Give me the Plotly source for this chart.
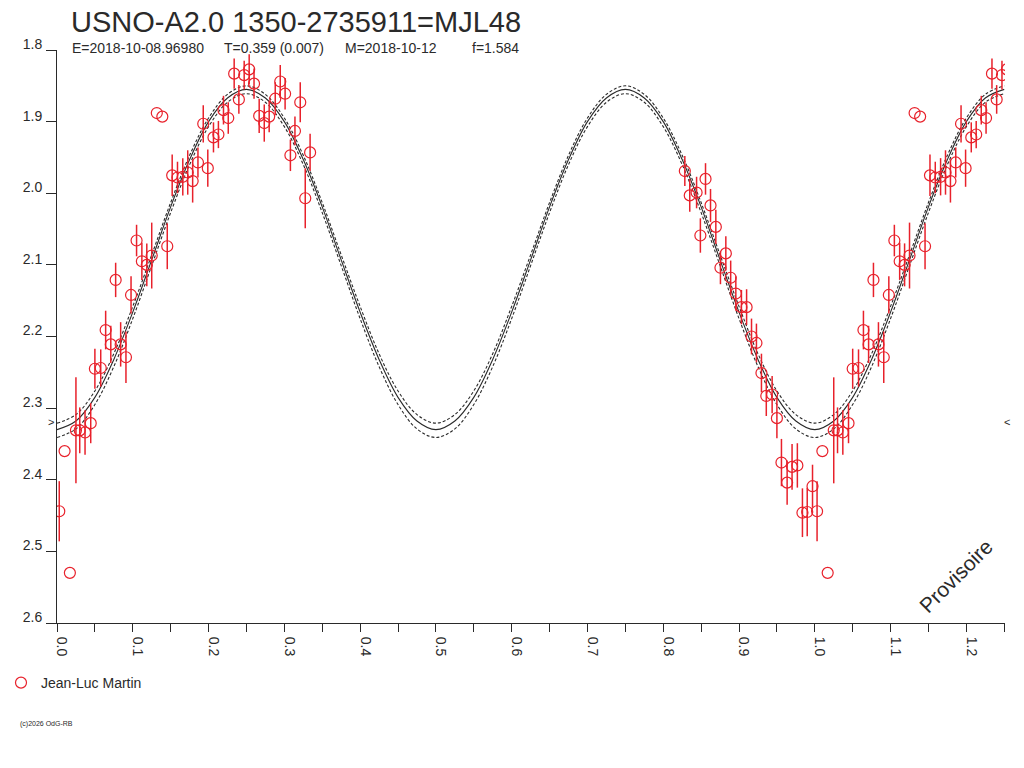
import plotly.graph_objects as go

OUTPUT_HTML = "out.html"

# photometry folded on phase (Jean-Luc Martin)
phase = [0.003, 0.010, 0.017, 0.025, 0.030, 0.037, 0.0445, 0.050, 0.0577, 0.0642,
         0.071, 0.0774, 0.084, 0.091, 0.0977, 0.105, 0.112, 0.1185, 0.125, 0.1317,
         0.139, 0.1455, 0.152, 0.159, 0.166, 0.1725, 0.179, 0.186, 0.193, 0.199,
         0.2065, 0.213, 0.2197, 0.226, 0.2338, 0.240, 0.247, 0.2536, 0.260, 0.2668,
         0.2735, 0.280, 0.288, 0.2946, 0.301, 0.308, 0.314, 0.321, 0.3276, 0.334,
         0.8285, 0.835, 0.844, 0.849, 0.8558, 0.8624, 0.8694, 0.8755, 0.8826, 0.889,
         0.8958, 0.9032, 0.910, 0.9165, 0.923, 0.9296, 0.936, 0.9437, 0.950, 0.956,
         0.9635, 0.970, 0.977, 0.9837, 0.990, 0.997]
mag = [2.444, 2.360, 2.530, 2.331, 2.331, 2.334, 2.321, 2.245, 2.244, 2.191,
       2.211, 2.121, 2.211, 2.229, 2.142, 2.066, 2.095, 2.100, 2.087, 1.888,
       1.893, 2.074, 1.975, 1.978, 1.977, 1.971, 1.983, 1.957, 1.903, 1.965,
       1.922, 1.918, 1.884, 1.895, 1.833, 1.869, 1.835, 1.827, 1.847, 1.892,
       1.902, 1.893, 1.868, 1.844, 1.861, 1.947, 1.913, 1.873, 2.007, 1.943,
       1.969, 2.003, 1.999, 2.059, 1.980, 2.017, 2.047, 2.104, 2.084, 2.118,
       2.140, 2.159, 2.159, 2.200, 2.209, 2.251, 2.283, 2.281, 2.314, 2.376,
       2.404, 2.382, 2.380, 2.446, 2.445, 2.409]
mag_err = [0.042, 0.0, 0.0, 0.074, 0.032, 0.031, 0.028, 0.028, 0.026, 0.027,
           0.026, 0.024, 0.031, 0.036, 0.026, 0.022, 0.026, 0.030, 0.046, 0.0,
           0.0, 0.032, 0.029, 0.022, 0.026, 0.031, 0.030, 0.021, 0.026, 0.026,
           0.021, 0.019, 0.020, 0.022, 0.021, 0.020, 0.020, 0.021, 0.021, 0.024,
           0.026, 0.022, 0.023, 0.023, 0.022, 0.022, 0.020, 0.028, 0.042, 0.026,
           0.021, 0.023, 0.022, 0.024, 0.022, 0.023, 0.024, 0.023, 0.024, 0.024,
           0.024, 0.024, 0.025, 0.025, 0.027, 0.027, 0.028, 0.026, 0.028, 0.033,
           0.031, 0.032, 0.031, 0.034, 0.034, 0.030]

# fitted curve over half a period (double wave), read every 0.025 in phase
curve_phase = [0.0, 0.025, 0.05, 0.075, 0.1, 0.125, 0.15, 0.175, 0.2, 0.225, 0.25,
               0.275, 0.3, 0.325, 0.35, 0.375, 0.4, 0.425, 0.45, 0.475, 0.5]
curve_mid = [2.330, 2.318, 2.285, 2.232, 2.166, 2.093, 2.019, 1.953, 1.900, 1.867, 1.855,
             1.867, 1.900, 1.953, 2.019, 2.093, 2.166, 2.232, 2.285, 2.318, 2.330]
curve_hi = [2.321, 2.309, 2.276, 2.224, 2.158, 2.086, 2.013, 1.947, 1.895, 1.862, 1.850,
            1.862, 1.895, 1.947, 2.013, 2.086, 2.158, 2.224, 2.276, 2.309, 2.321]
curve_lo = [2.341, 2.329, 2.295, 2.242, 2.175, 2.101, 2.027, 1.960, 1.907, 1.873, 1.861,
            1.873, 1.907, 1.960, 2.027, 2.101, 2.175, 2.242, 2.295, 2.329, 2.341]

mean_mag = 2.319
title = "USNO-A2.0 1350-2735911=MJL48"
info = [("E=2018-10-08.96980", 70), ("T=0.359 (0.007)", 222),
        ("M=2018-10-12", 343), ("f=1.584", 470)]

FONT = "Liberation Sans, Arial, sans-serif"
RED = "#e8212b"
INK = "#2a2a2a"

# the page body adds an 8px margin, so screen pixels are shifted by OFF
OFF = 8
W, H = 1024, 768
L, T = 57 - OFF, 50 - OFF
R, B = W - (1005 - OFF), H - (623 - OFF)
pw, ph = W - L - R, H - T - B


def to_paper(xpx, ypx):
    return (xpx - OFF - L) / pw, 1 - (ypx - OFF - T) / ph


def tile(values):
    # repeat the half period up to phase 1.25
    xs, ys = [], []
    for k in range(3):
        for p, v in zip(curve_phase, values):
            x = p + 0.5 * k
            if x > 1.25 or (k > 0 and p == 0.0):
                continue
            xs.append(x)
            ys.append(v)
    return xs, ys


fig = go.Figure()

for vals, dash in [(curve_hi, "3px,2px"), (curve_lo, "3px,2px"), (curve_mid, "solid")]:
    cx, cy = tile(vals)
    fig.add_trace(go.Scatter(x=cx, y=cy, mode="lines", showlegend=False, hoverinfo="skip",
                             line=dict(color=INK, width=1.1, dash=dash, shape="spline")))

# points before phase 0.26 are shown again one cycle later
px_ = phase + [p + 1 for p in phase if p < 0.26]
py_ = mag + [m for p, m in zip(phase, mag) if p < 0.26]
pe_ = mag_err + [e for p, e in zip(phase, mag_err) if p < 0.26]

fig.add_trace(go.Scatter(
    x=px_, y=py_, mode="markers", name="Jean-Luc Martin",
    marker=dict(symbol="circle-open", size=11, color=RED, line=dict(width=1.2, color=RED)),
    error_y=dict(type="data", array=pe_, visible=True, color=RED, thickness=1.5, width=0),
))

annotations = []
tx, ty = to_paper(70, 22)
annotations.append(dict(text=title, x=tx, y=ty, xref="paper", yref="paper", showarrow=False,
                        xanchor="left", yanchor="middle", borderpad=0,
                        font=dict(size=29, color=INK, family=FONT)))
for txt, xp in info:
    ax, ay = to_paper(xp, 48)
    annotations.append(dict(text=txt, x=ax, y=ay, xref="paper", yref="paper", showarrow=False,
                            xanchor="left", yanchor="middle", font=dict(size=14, color=INK, family=FONT)))
annotations.append(dict(text=">", x=0, y=mean_mag, xref="paper", yref="y", showarrow=False,
                        xanchor="right", yanchor="middle", xshift=-1,
                        font=dict(size=11, color=INK, family=FONT)))
annotations.append(dict(text="<", x=1, y=mean_mag, xref="paper", yref="y", showarrow=False,
                        xanchor="left", yanchor="middle", xshift=-3,
                        font=dict(size=11, color=INK, family=FONT)))
px1, py1 = to_paper(955, 576)
annotations.append(dict(text="Provisoire", x=px1, y=py1, xref="paper", yref="paper", showarrow=False,
                        xanchor="center", yanchor="middle", textangle=-45,
                        font=dict(size=21, color=INK, family=FONT)))
cx1, cy1 = to_paper(18, 724)
annotations.append(dict(text="(c)2026 OdG-RB", x=cx1, y=cy1, xref="paper", yref="paper",
                        showarrow=False, xanchor="left", yanchor="middle",
                        font=dict(size=7, color=INK, family=FONT)))

lx, ly = to_paper(1, 683)

fig.update_layout(
    width=W, height=H,
    margin=dict(l=L, r=R, t=T, b=B, autoexpand=False),
    paper_bgcolor="white", plot_bgcolor="white",
    font=dict(family=FONT, color=INK, size=14),
    annotations=annotations,
    showlegend=True,
    legend=dict(x=lx, y=ly, xanchor="left", yanchor="middle", bgcolor="rgba(0,0,0,0)",
                font=dict(size=14, color=INK, family=FONT), itemwidth=30),
    xaxis=dict(range=[0, 1.251], showgrid=False, zeroline=False, showline=True,
               linecolor=INK, linewidth=1, ticks="outside", ticklen=8, tickcolor=INK,
               dtick=0.1, tick0=0, tickformat=".1f", tickangle=90, ticklabelshift=5,
               ticklabelstandoff=2, automargin=False,
               minor=dict(dtick=0.05, ticks="outside", ticklen=8, tickcolor=INK)),
    yaxis=dict(range=[2.6, 1.8], showgrid=False, zeroline=False, showline=True,
               linecolor=INK, linewidth=1, ticks="outside", ticklen=10, tickcolor=INK,
               dtick=0.1, tick0=1.8, tickformat=".1f", ticklabelshift=6,
               ticklabelstandoff=1, automargin=False),
)

fig.write_html(OUTPUT_HTML)
